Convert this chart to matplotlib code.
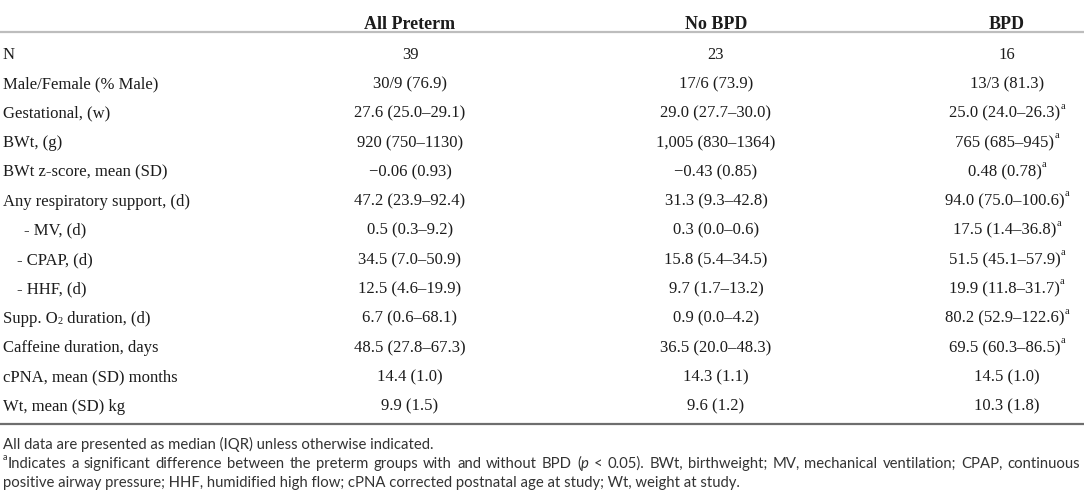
import matplotlib
matplotlib.use("Agg")
import matplotlib.pyplot as plt

# Table content
columns = ["All Preterm", "No BPD", "BPD"]
row_labels = [
    "N",
    "Male/Female (% Male)",
    "Gestational, (w)",
    "BWt, (g)",
    "BWt z-score, mean (SD)",
    "Any respiratory support, (d)",
    "- MV, (d)",
    "- CPAP, (d)",
    "- HHF, (d)",
    "Supp. O2 duration, (d)",
    "Caffeine duration, days",
    "cPNA, mean (SD) months",
    "Wt, mean (SD) kg",
]
label_indent = [0, 0, 0, 0, 0, 0, 21, 14, 14, 0, 0, 0, 0]
all_preterm = [
    "39", "30/9 (76.9)", "27.6 (25.0–29.1)", "920 (750–1130)", "−0.06 (0.93)",
    "47.2 (23.9–92.4)", "0.5 (0.3–9.2)", "34.5 (7.0–50.9)", "12.5 (4.6–19.9)",
    "6.7 (0.6–68.1)", "48.5 (27.8–67.3)", "14.4 (1.0)", "9.9 (1.5)",
]
no_bpd = [
    "23", "17/6 (73.9)", "29.0 (27.7–30.0)", "1,005 (830–1364)", "−0.43 (0.85)",
    "31.3 (9.3–42.8)", "0.3 (0.0–0.6)", "15.8 (5.4–34.5)", "9.7 (1.7–13.2)",
    "0.9 (0.0–4.2)", "36.5 (20.0–48.3)", "14.3 (1.1)", "9.6 (1.2)",
]
bpd = [
    "16", "13/3 (81.3)", "25.0 (24.0–26.3)", "765 (685–945)", "0.48 (0.78)",
    "94.0 (75.0–100.6)", "17.5 (1.4–36.8)", "51.5 (45.1–57.9)", "19.9 (11.8–31.7)",
    "80.2 (52.9–122.6)", "69.5 (60.3–86.5)", "14.5 (1.0)", "10.3 (1.8)",
]
bpd_sig = [False, False, True, True, True, True, True, True, True, True, True, False, False]

footnotes = [
    [("All data are presented as median (IQR) unless otherwise indicated.", "normal", 0)],
    [("a", "normal", 1),
     ("Indicates a significant difference between the preterm groups with and without BPD (", "normal", 0),
     ("p", "italic", 0),
     (" < 0.05). BWt, birthweight; MV, mechanical ventilation; CPAP, continuous", "normal", 0)],
    [("positive airway pressure; HHF, humidified high flow; cPNA corrected postnatal age at study; Wt, weight at study.", "normal", 0)],
]
footnote_justify = [False, True, False]

W, H = 1084, 491
SERIF = "Liberation Serif"
SANS = "Lato"
BODY = 12
HEAD = 13
FOOT = 10.7
INK = "#1c1c1c"

fig = plt.figure(figsize=(W / 100, H / 100), dpi=100)
ax = fig.add_axes([0, 0, 1, 1])
ax.set_xlim(0, W)
ax.set_ylim(H, 0)
ax.axis("off")
renderer = fig.canvas.get_renderer()


def text_width(t):
    return t.get_window_extent(renderer=renderer).width


def draw_runs(x, y, runs, family, size, color, ha="left", justify_to=None):
    # runs: (string, style, shift) ; shift=1 superscript, -1 subscript
    pieces = []
    for s, style, shift in runs:
        if justify_to is not None and not shift:
            parts = s.split(" ")
            for k, p in enumerate(parts):
                if p:
                    pieces.append((p, style, shift, False))
                if k < len(parts) - 1:
                    pieces.append((" ", style, shift, True))
        else:
            pieces.append((s, style, shift, False))
    items = []
    for s, style, shift, is_space in pieces:
        fs = size * 0.62 if shift else size
        dy = -size * 0.55 if shift > 0 else (size * 0.30 if shift < 0 else 0)
        t = ax.text(0, y + dy, s, family=family, style=style, fontsize=fs,
                    color=color, va="center_baseline", ha="left")
        items.append((t, is_space))
    space_w = None
    widths = []
    for t, is_space in items:
        if is_space:
            if space_w is None:
                probe = ax.text(0, 0, "a a", family=family, fontsize=size)
                probe2 = ax.text(0, 0, "aa", family=family, fontsize=size)
                space_w = text_width(probe) - text_width(probe2)
                probe.remove()
                probe2.remove()
            widths.append(space_w)
        else:
            widths.append(text_width(t))
    total = sum(widths)
    n_space = sum(1 for _, sp in items if sp)
    extra = 0
    if justify_to is not None and n_space:
        extra = max(0, (justify_to - x - total) / n_space)
    cx = x - total / 2 if ha == "center" else x
    for (t, is_space), w in zip(items, widths):
        t.set_x(cx)
        cx += w + (extra if is_space else 0)


col_x = [410, 716, 1007]
header_y = 22
row_y0, row_step = 53, 29.3

for cx, name in zip(col_x, columns):
    ax.text(cx, header_y, name, family=SERIF, fontweight="bold", fontsize=HEAD,
            color=INK, ha="center", va="center_baseline")

ax.plot([0, W], [32, 32], color="#bdbdbd", lw=1.6, solid_capstyle="butt")

for i, label in enumerate(row_labels):
    y = row_y0 + i * row_step
    if "O2" in label:
        runs = [("Supp. O", "normal", 0), ("2", "normal", -1), (" duration, (d)", "normal", 0)]
    else:
        runs = [(label, "normal", 0)]
    draw_runs(3 + label_indent[i], y, runs, SERIF, BODY, INK)
    draw_runs(col_x[0], y, [(all_preterm[i], "normal", 0)], SERIF, BODY, INK, ha="center")
    draw_runs(col_x[1], y, [(no_bpd[i], "normal", 0)], SERIF, BODY, INK, ha="center")
    bruns = [(bpd[i], "normal", 0)]
    if bpd_sig[i]:
        bruns.append(("a", "normal", 1))
    draw_runs(col_x[2], y, bruns, SERIF, BODY, INK, ha="center")

ax.plot([0, W], [424, 424], color="#6e6e6e", lw=1.6, solid_capstyle="butt")

for j, runs in enumerate(footnotes):
    draw_runs(3, 443 + j * 19.5, runs, SANS, FOOT, "#333333",
              justify_to=1080 if footnote_justify[j] else None)

fig.savefig("out.png", dpi=100)
